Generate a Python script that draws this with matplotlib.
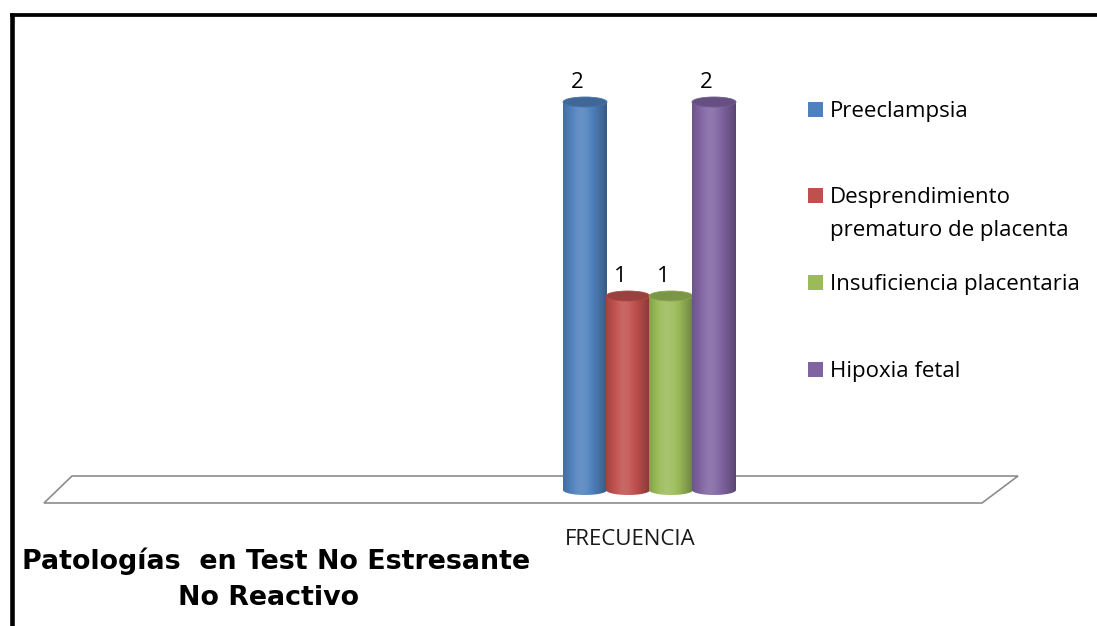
import numpy as np
import matplotlib
matplotlib.use('Agg')
import matplotlib.pyplot as plt
from matplotlib.patches import Ellipse, PathPatch, Polygon
from matplotlib.path import Path
import matplotlib.colors as mcolors

# Data
series = ['Preeclampsia', 'Desprendimiento\nprematuro de placenta',
          'Insuficiencia placentaria', 'Hipoxia fetal']
values = [2, 1, 1, 2]
colors = ['#4F81BD', '#C0504D', '#9BBB59', '#8064A2']
category = 'FRECUENCIA'
title_lines = ['Patologías  en Test No Estresante', 'No Reactivo']

W, H = 1097, 626
LABEL_FONT = 'Open Sans'
LABEL_SIZE = 16


def shade(color, k):
    """k > 0 mixes towards white, k < 0 towards black."""
    c = np.array(mcolors.to_rgb(color))
    if k >= 0:
        return c + (1 - c) * k
    return c * (1 + k)


def cylinder_profile(color, n=64):
    t = np.linspace(0, 1, n)
    k = 0.13 * np.exp(-((t - 0.42) / 0.25) ** 2) - 0.30 * (np.abs(t - 0.42) / 0.58) ** 2
    return np.array([shade(color, kk) for kk in k])


fig = plt.figure(figsize=(W / 100, H / 100), dpi=100)

# background layer in pixel units: frame, floor, legend, titles
bg = fig.add_axes([0, 0, 1, 1])
bg.set_xlim(0, W)
bg.set_ylim(H, 0)
bg.axis('off')

# chart frame (top and left edges only)
bg.plot([9.5, W], [14.5, 14.5], color='black', lw=2.7, solid_capstyle='butt')
bg.plot([12, 12], [12.5, H], color='black', lw=3.3, solid_capstyle='butt')

# floor of the 3D plot area
floor = Polygon([(72, 476), (1018, 476), (982, 503), (44, 503)], closed=True,
                facecolor='white', edgecolor='#8c8c8c', lw=1.2)
bg.add_patch(floor)

# bar layer: x in pixels, y in data units
ax = fig.add_axes([0, 0, 1, 1])
ax.axis('off')
base_px, unit_px = 490, 194
ylo, yhi = (base_px - H) / unit_px, base_px / unit_px

bar_left, bar_w = 563, 44
eh = 5.0 / unit_px  # semi-height of the cylinder caps

for i, (name, v, c) in enumerate(zip(series, values, colors)):
    x0 = bar_left + i * (bar_w - 1)
    x1 = x0 + bar_w
    xc = (x0 + x1) / 2
    a = bar_w / 2
    th = np.linspace(np.pi, 2 * np.pi, 40)
    verts = [(x0, v), (x0, 0)] + list(zip(xc + a * np.cos(th), eh * np.sin(th))) + [(x1, 0), (x1, v), (x0, v)]
    codes = [Path.MOVETO] + [Path.LINETO] * (len(verts) - 2) + [Path.CLOSEPOLY]
    body = PathPatch(Path(verts, codes), facecolor='none', edgecolor='none', zorder=2 + i)
    ax.add_patch(body)
    grad = cylinder_profile(c)[np.newaxis, :, :]
    im = ax.imshow(grad, extent=[x0, x1, -eh, v], aspect='auto',
                   interpolation='bilinear', zorder=2 + i)
    im.set_clip_path(body)
    top = Ellipse((xc, v), width=2 * a, height=2 * eh,
                  facecolor=shade(c, -0.2), edgecolor=shade(c, -0.1), lw=0.6, zorder=2 + i)
    ax.add_patch(top)
    ax.text(xc - 8, v + 14 / unit_px, str(v), ha='center', va='baseline',
            fontsize=LABEL_SIZE, family=LABEL_FONT, color='black', zorder=10)

ax.set_xlim(0, W)
ax.set_ylim(ylo, yhi)

# category label under the floor
bg.text(630, 545, category, ha='center', va='baseline', fontsize=LABEL_SIZE,
        family=LABEL_FONT, color='#1a1a1a')

# legend
leg_base = [117, 203, 290, 377]
for name, c, yb in zip(series, colors, leg_base):
    bg.add_patch(plt.Rectangle((808, yb - 15), 15, 15, facecolor=c, edgecolor='none'))
    for j, line in enumerate(name.split('\n')):
        bg.text(830, yb + 33 * j, line, ha='left', va='baseline', fontsize=LABEL_SIZE,
                family=LABEL_FONT, color='black')

# title
bg.text(276, 569, title_lines[0], ha='center', va='baseline', fontsize=19.4,
        fontweight='bold', family='DejaVu Sans', color='black')
bg.text(268, 605, title_lines[1], ha='center', va='baseline', fontsize=19.4,
        fontweight='bold', family='DejaVu Sans', color='black')

fig.savefig('out.png', dpi=100, facecolor='white')
